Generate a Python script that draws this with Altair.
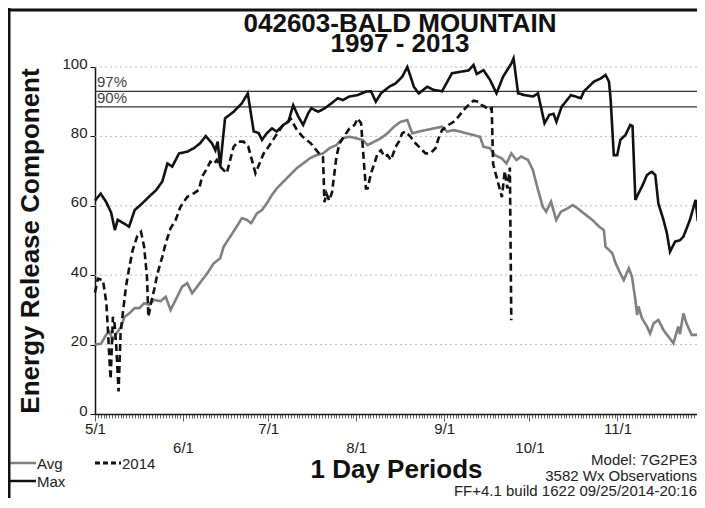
import altair as alt
import pandas as pd

# ---------------- text ----------------
TITLE = ["042603-BALD MOUNTAIN", "1997 - 2013"]
Y_TITLE = "Energy Release Component"
X_TITLE = "1 Day Periods"
FOOTER = ["Model: 7G2PE3", "3582 Wx Observations", "FF+4.1 build 1622 09/25/2014-20:16"]

# ---------------- axes ----------------
month_days = [0, 31, 61, 92, 123, 153, 184]          # days since 5/1
month_labels = ["5/1", "6/1", "7/1", "8/1", "9/1", "10/1", "11/1"]
day_ticks = list(range(0, 213))
y_ticks = [0, 20, 40, 60, 80, 100]
y_grid = [20, 40, 60, 80, 100]

pct_labels = ["97%", "90%"]
pct_values = [93.0, 88.5]

series_names = ["Avg", "2014", "Max"]
series_colors = ["#808080", "#111111", "#111111"]

# ---------------- data (day since 5/1, ERC) ----------------
max_days = [0, 2, 4, 5.7, 7, 8, 10, 12, 14, 16, 19, 21.5, 23.7, 25.5, 27.2, 29.6, 32.5, 34.8,
            37, 39, 41.2, 42.4, 43.2, 44.1, 44.9, 45.8, 48.8, 51.7, 53.8, 55.9, 57.6, 58.8,
            60.5, 62.3, 64, 66.3, 68.1, 69.8, 71.6, 73.3, 75.1, 76.2, 78.6, 80.9, 83.2, 85.5,
            87.3, 89.6, 92.5, 95.4, 97.2, 98.9, 100.7, 103.6, 105.9, 108.2, 110, 112.3, 114,
            117, 119.3, 122.2, 125.7, 129.2, 131.5, 133.3, 134.4, 136.8, 139.1, 141.4, 143.7,
            146.6, 147.4, 149, 151.3, 154.2, 156, 158.3, 160, 161.5, 162.5, 164.3, 167.6,
            171.1, 172.2, 175.7, 178.1, 179.8, 181, 181.6, 182.7, 183.9, 185, 186.8, 188.5,
            189.3, 190.3, 191.4, 192.6, 194.4, 196.1, 197.3, 198.4, 200.2, 201.4, 202.5,
            204.3, 206, 207.2, 209.5, 211.5, 212.3]
max_vals = [61.5, 63.5, 61, 58, 53, 56, 55, 54, 58.8, 60.2, 62.6, 64.5, 67, 72.2, 71.3, 75.1,
            75.6, 76.6, 78, 80.1, 78, 76, 78.5, 71.3, 78, 85.2, 87.1, 89.5, 92.4, 81.4, 81, 79,
            80.9, 82.3, 81.4, 83.3, 84.2, 89, 85.7, 83.3, 86.7, 88.1, 87.1, 88.1, 89.5, 91,
            90.5, 91.5, 91.9, 92.9, 93, 90, 92.4, 94.3, 95.3, 97.2, 100, 94.3, 92.4,
            94.3, 93.4, 93, 98.2, 98.7, 99, 100.6, 98, 99.1, 96.3, 92.4, 97.2,
            101, 102.5, 92.4, 91.9, 91.5, 92.4, 83.8, 86.2, 86.5, 84.2, 88.5, 91.9,
            91, 93, 95.8, 96.7, 97.7, 95.8, 90.5, 74.6, 74.6, 79, 80.4, 83.3,
            83, 61.7, 63.6, 65.5, 68.9, 69.8, 68.9, 60.7, 55.9, 52.1, 46.8,
            49.7, 50.1, 51.1, 55.9, 61.7, 55.5]

avg_days = [0, 2.2, 3.9, 5.1, 6.3, 7.4, 9.2, 10.4, 12.1, 13.9, 15.6, 17.3, 19.1, 20.8, 23.1,
            24.9, 26.6, 28.4, 30.7, 32.5, 34.2, 36, 37.7, 39.5, 41.8, 44.1, 45.3, 47.6, 49.9,
            51.7, 53.4, 55, 57, 58.8, 60.5, 62.3, 64, 66.3, 68.7, 71, 73.3, 75.7, 78, 80.3,
            82.6, 85, 87.3, 89.6, 91.9, 94.3, 96, 98.4, 100.7, 103, 105.3, 107.6, 110, 111.7,
            114, 116.4, 119.3, 122.2, 124, 126.3, 128.6, 130.9, 133.3, 135.6, 136.8, 139.1,
            140.8, 143.2, 144.9, 146.6, 148.4, 150.1, 152.5, 154.2, 156, 157.7, 158.9, 160.6,
            162.4, 164.1, 166.5, 168.2, 169.9, 172.2, 175.2, 177.5, 179.2, 179.8, 181, 182.2,
            183.3, 185, 186.2, 188, 189.1, 190.3, 190.9, 191.4, 192.6, 194.4, 195.5, 196.7,
            198.4, 200.2, 201.9, 203.7, 205.4, 206, 207.2, 208.3, 210.1, 212.3]
avg_vals = [20, 20.3, 22.8, 23.7, 21.3, 23, 25.2, 28, 29, 30.5, 30.5, 31.9, 31.5, 32.9, 32.5,
            33.8, 30, 32.9, 36.7, 37.7, 34.8, 36.7, 38.6, 40.5, 43.4, 44.9, 48.2, 51.1, 54,
            56.4, 56, 55, 57.8, 58.8, 60.7, 63.1, 65, 66.9, 68.9, 70.8, 72.2, 73.7, 74.6, 75.1,
            76.6, 77.5, 79.5, 79.9, 79.5, 79, 77.5, 78.5, 79.5, 80.9, 82.8, 84.2, 84.7, 80.9,
            81.4, 81.8, 82.3, 82.8, 81.4, 81.8, 81.4, 80.9, 80.4, 79.9, 77, 76.6,
            74.6, 73.7, 72.2, 75.1, 73.2, 74.2, 73.2, 70.3, 64.6, 59.7, 58.3, 61.2,
            55.9, 58.3, 59.3, 60.2, 59.3, 57.8, 55.9, 54, 53, 48.2, 47.3, 46.3,
            43.5, 40.5, 38.6, 42, 39.6, 32.9, 28.5, 31, 27.6, 25.2, 23.2, 26.1,
            27.1, 24.2, 22.3, 20.4, 25.2, 23, 29, 26.1, 22.8, 22.8]

y2014_days = [0, 1, 2.8, 4, 4.5, 5.1, 5.5, 6.3, 6.9, 7.5, 8.3, 9, 9.8, 10.9, 12.1, 13.3, 14.8,
              16.2, 17.3, 18.3, 18.8, 19.7, 20.8, 22, 23.7, 24.9, 26.6, 28.4, 30.1, 32.5, 34.8,
              36.6, 37.7, 39.5, 40.6, 41.8, 42.9, 44.1, 45.3, 46.4, 47.6, 48.8, 50.5, 52.3, 54,
              56.5, 59.4, 61.1, 63.5, 66, 69, 71, 73, 76, 79, 80.3, 80.8, 81.5, 82.5, 83.5, 85,
              86.1, 89.6, 91.4, 92.5, 93.7, 94.3, 94.9, 95.4, 96, 97.2, 98.4, 99.5, 100.7,
              101.9, 103, 104.2, 105.9, 107, 108.2, 109.4, 111.1, 112.9, 114.6, 116.4, 118.1,
              119.9, 121, 122.2, 124.5, 126.3, 128, 129.8, 131.5, 133.3, 135, 136.2, 137.3,
              138.5, 139.7, 140.2, 141.5, 143.3, 144.3, 145.2, 146.1, 146.6]
y2014_vals = [35, 39, 38.6, 32, 25, 15.6, 10, 28, 26, 19.4, 6.5, 23.2, 29, 36.7, 42.4, 47.3, 51.1,
              52.5, 48.2, 39.6, 28, 31.9, 35.7, 40.5, 45.3, 49.2, 53.5, 55.9, 59.7, 62.6, 63.6,
              64.6, 68.4, 70.8, 72.7, 72, 73.2, 71.3, 70.3, 69.4, 73.2, 77, 78.5, 78.5, 77,
              69.4, 75.1, 77, 80, 83, 85, 82, 80, 78, 75, 74, 61, 63.5, 61.5, 64, 74,
              78, 82.3, 83.3, 85.2, 83.8, 77, 70.3, 65, 65, 69.4, 72.2, 75.1, 76,
              74.2, 74.6, 73.2, 77, 78.5, 80.9, 81.4, 79.9, 78, 76.6, 75.1, 75.1,
              76.6, 79.5, 81.8, 83.3, 84.2, 85.7, 87.6, 89, 90.3, 90, 89, 88.6,
              87.6, 88.1, 72, 68, 62.5, 70, 65, 71, 27]

# ---------------- tables ----------------
df = pd.concat([
    pd.DataFrame({"series": "Avg", "day": avg_days, "erc": avg_vals}),
    pd.DataFrame({"series": "2014", "day": y2014_days, "erc": y2014_vals}),
    pd.DataFrame({"series": "Max", "day": max_days, "erc": max_vals}),
], ignore_index=True)
pct_df = pd.DataFrame({"label": pct_labels, "erc": pct_values})
grid_df = pd.DataFrame({"erc": y_grid})
one = pd.DataFrame({"k": [0]})

W, H = 602, 347
FONT = "Liberation Sans"
DASH = [7, 4]

# staggered month labels via multi-line label text
expr = "''"
for i in range(len(month_days) - 1, -1, -1):
    lab = f"'{month_labels[i]}'" if i % 2 == 0 else f"['', '{month_labels[i]}']"
    expr = f"datum.value == {month_days[i]} ? {lab} : ({expr})"
month_test = "indexof([" + ",".join(str(d) for d in month_days) + "], datum.value) >= 0"

x_scale = alt.Scale(domain=[0, 212], nice=False, zero=False)
y_scale = alt.Scale(domain=[0, 100], nice=False)

x_axis = alt.Axis(values=day_ticks, labelExpr=expr, labelOverlap=False, labelFlush=False,
                  labelBound=False, labelFontSize=15, labelFont=FONT, labelColor="#222",
                  labelBaseline="top", labelPadding=0, labelLineHeight=19,
                  tickSize={"condition": {"test": month_test, "value": 7}, "value": 4},
                  tickColor="#333", tickWidth=0.8, domainColor="#111", domainWidth=1.5,
                  grid=False, title=X_TITLE, titleFont=FONT, titleFontSize=26,
                  titleFontWeight="bold", titleColor="#111", titleY=63,
                  titleBaseline="alphabetic")
y_axis = alt.Axis(values=y_ticks, labelFontSize=15, labelFont=FONT, labelColor="#222",
                  labelBaseline="alphabetic", labelOffset=1, labelPadding=3, tickSize=5,
                  tickColor="#111", domainColor="#111", domainWidth=1.5, grid=False,
                  title=Y_TITLE, titleFont=FONT, titleFontSize=26, titleFontWeight="bold",
                  titleColor="#111", titleX=-57, titleY=H / 2, titleAngle=270,
                  titleAlign="center", titleBaseline="alphabetic")

grid = alt.Chart(grid_df).mark_rule(color="#bbbbbb", strokeDash=[2, 3], strokeWidth=1).encode(
    y=alt.Y("erc:Q", scale=y_scale, axis=y_axis)
)

pct_rules = alt.Chart(pct_df).mark_rule(color="#333333", strokeWidth=1.2).encode(
    y=alt.Y("erc:Q", scale=y_scale)
)
pct_text = alt.Chart(pct_df).mark_text(align="left", baseline="bottom", dy=-1, font=FONT,
                                       fontSize=15, color="#444").encode(
    x=alt.value(2), y=alt.Y("erc:Q", scale=y_scale), text="label:N"
)

lines = alt.Chart(df).mark_line(strokeWidth=2.6, interpolate="linear").encode(
    x=alt.X("day:Q", scale=x_scale, axis=x_axis),
    y=alt.Y("erc:Q", scale=y_scale),
    color=alt.Color("series:N", scale=alt.Scale(domain=series_names, range=series_colors),
                    legend=None),
    strokeDash=alt.StrokeDash("series:N", scale=alt.Scale(domain=series_names,
                                                          range=[[1, 0], DASH, [1, 0]]),
                              legend=None),
    order=alt.Order("day:Q"),
)

# ---------------- title, footer, legend, frame ----------------
title = alt.Chart(one).mark_text(text=TITLE, align="center", baseline="alphabetic",
                                 font=FONT, fontSize=26, fontWeight="bold", lineHeight=20,
                                 color="#111").encode(
    x=alt.value(W / 2 + 4), y=alt.value(-35)
)

footer = alt.Chart(one).mark_text(text=FOOTER, align="right", baseline="alphabetic",
                                  font=FONT, fontSize=15, lineHeight=15.5, color="#222").encode(
    x=alt.value(W), y=alt.value(398)
)

# legend keys (Avg / 2014 on first row, Max on second row)
leg_layers = []
leg_pos = [(-85, 396), (0, 396), (-85, 414)]
for name, color, (lx, ly) in zip(series_names, series_colors, leg_pos):
    dash = DASH if name == "2014" else [1, 0]
    sw = 3 if name == "2014" else 2.5
    leg_layers.append(
        alt.Chart(one).mark_rule(color=color, strokeWidth=sw, strokeDash=[5, 3] if name == "2014" else dash).encode(
            x=alt.value(lx), x2=alt.value(lx + 26), y=alt.value(ly)
        )
    )
    leg_layers.append(
        alt.Chart(one).mark_text(text=name, align="left", baseline="middle", font=FONT,
                                 fontSize=15, color="#222").encode(
            x=alt.value(lx + 27), y=alt.value(ly + 1)
        )
    )

frame_left = alt.Chart(one).mark_rule(color="#111", strokeWidth=3).encode(
    x=alt.value(-86), y=alt.value(-59), y2=alt.value(H + 84)
)
frame_top = alt.Chart(one).mark_rule(color="#111", strokeWidth=3).encode(
    x=alt.value(-87), x2=alt.value(W), y=alt.value(-57)
)

chart = alt.layer(grid, pct_rules, pct_text, lines, title, footer, *leg_layers,
                  frame_left, frame_top).properties(
    width=W, height=H,
    autosize=alt.AutoSizeParams(type="none"),
    padding={"left": 87, "top": 59, "right": 0, "bottom": 84},
    background="white",
).configure_view(stroke=None)

chart.save("out.html", embed_options={"renderer": "svg", "actions": False})
